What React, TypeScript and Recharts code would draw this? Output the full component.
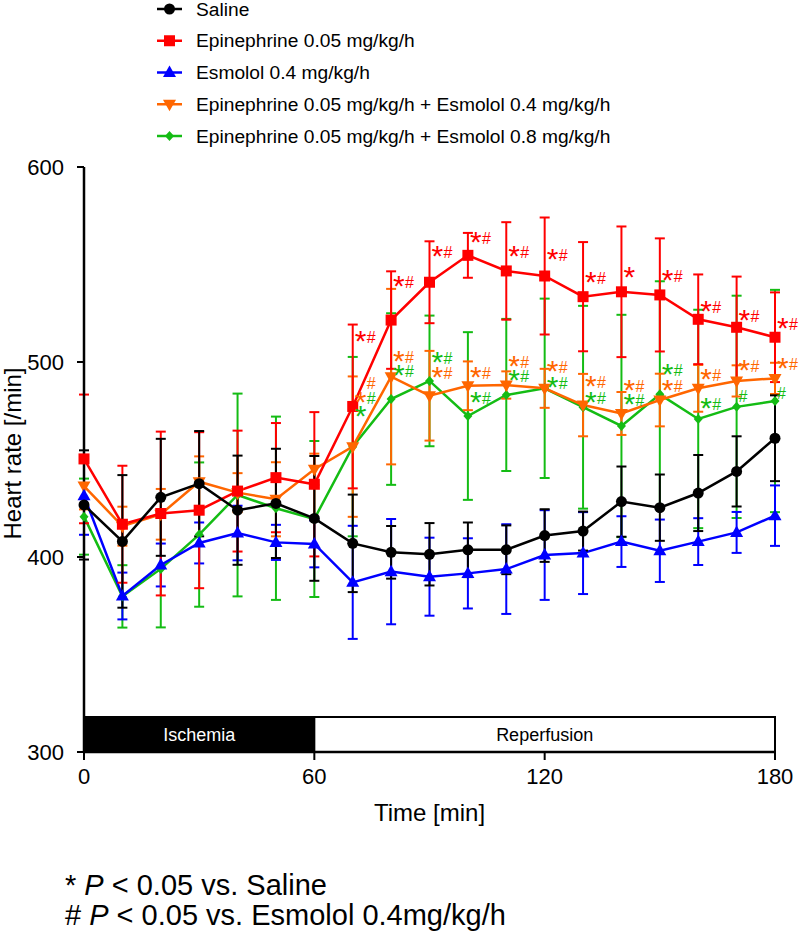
import React from "react";
import {
  ComposedChart,
  ErrorBar,
  Line,
  ReferenceArea,
  XAxis,
  YAxis,
} from "recharts";

// Tiempos de muestreo (min) y frecuencia cardiaca media ± error por grupo.
const times = [0, 10, 20, 30, 40, 50, 60, 70, 80, 90, 100, 110, 120, 130, 140, 150, 160, 170, 180];

const saline = [426.7, 408, 430.6, 437.6, 424, 427.5, 419.8, 407, 402.4, 401.4, 403.7, 403.7, 411, 413.3, 428.4, 425.3, 432.8, 443.9, 460.9];
const salineErr = [28, 34, 30, 27, 28, 28, 32, 25, 13.5, 16, 14, 12.5, 13.5, 10, 18, 17, 19.5, 18, 22];

const epi = [450.3, 416.8, 422.3, 424, 433.8, 440.7, 437.3, 477.2, 521.5, 540.9, 554.7, 546.7, 544.1, 533.5, 536, 534.4, 521.9, 517.8, 512.7];
const epiErr = [33, 30, 42, 40, 31, 28, 37, 42, 25, 21, 11.5, 25, 30, 28, 33.5, 29, 23, 26, 23];

const esm = [431.4, 380, 395.9, 407.2, 412.3, 407.5, 406.7, 387, 392.5, 389.9, 391.6, 393.8, 401, 402, 407.9, 403.2, 407.9, 412.6, 421.2];
const esmErr = [20, 12, 11, 10.5, 14, 9, 12, 29, 27, 20, 18, 23, 23, 21, 13, 16, 12, 10.5, 15.5];

const epiEsm04 = [436.4, 415.8, 421.9, 438.6, 433, 429.6, 445, 456.6, 492.5, 482.7, 487.8, 488.2, 486.5, 477.9, 473.6, 480.5, 486.5, 490.3, 491.6];
const epiEsm04Err = [12, 10, 13, 13, 10, 19, 8, 36, 45, 23, 12.5, 7, 10, 16, 11, 13.5, 12, 8, 8];

const epiEsm08 = [420.7, 379.8, 393.9, 411.5, 431.8, 425, 419.5, 456.6, 481, 490.3, 472.3, 483.1, 486.5, 476.8, 467.2, 483.4, 470.8, 477, 480];
const epiEsm08Err = [19.5, 16, 30, 37, 52, 47, 40, 46, 44, 33.5, 43, 39, 46, 52, 57, 58, 56, 57, 57];

// Marcas de significación (* vs. Saline, # vs. Esmolol); un espacio deja
// libre la posición del asterisco.
const epiSigTimes = [70, 80, 90, 100, 110, 120, 130, 140, 150, 160, 170, 180];
const epiSigValues = [512.8, 541, 556.4, 563.6, 556.4, 554.9, 543.1, 545.6, 544.1, 528.2, 523.6, 519.5];
const epiSigText = ["*#", "*#", "*#", "*#", "*#", "*#", "*#", "*", "*#", "*#", "*#", "*#"];

const e04SigTimes = [70, 70, 80, 90, 100, 110, 120, 130, 140, 150, 160, 170, 180];
const e04SigValues = [489.2, 481.5, 502.6, 494.4, 494.4, 500, 497.4, 489.7, 487.7, 487.7, 493.3, 497.9, 499];
const e04SigText = [" #", "*", "*#", "*#", "*#", "*#", "*#", "*#", "*#", "*#", "*#", "*#", "*#"];

const e08SigTimes = [70, 70, 80, 90, 100, 110, 120, 130, 140, 150, 160, 170, 180];
const e08SigValues = [481.5, 474.4, 495.4, 502.1, 481.5, 492.8, 489.2, 481.5, 480.5, 495.9, 478.5, 482.6, 484.1];
const e08SigText = [" #", "*", "*#", "*#", "*#", "*#", "*#", "*#", "*#", "*#", "*#", "#", "#"];

const xTicks = [0, 60, 120, 180];
const yTicks = [300, 400, 500, 600];

const FONT = "'Liberation Sans', Arial, Helvetica, sans-serif";

const BLACK = "#000000";
const RED = "#ff0000";
const BLUE = "#0000ff";
const ORANGE = "#ff6600";
const GREEN = "#14bc14";

type Shape = "circle" | "square" | "up" | "down" | "diamond";

function Marker({ shape, x, y, color }: { shape: Shape; x: number; y: number; color: string }) {
  switch (shape) {
    case "circle":
      return <circle cx={x} cy={y} r={5.5} fill={color} />;
    case "square":
      return <rect x={x - 5.5} y={y - 5.5} width={11} height={11} fill={color} />;
    case "up":
      return <path d={`M${x},${y - 7} L${x + 6.5},${y + 4.5} L${x - 6.5},${y + 4.5} Z`} fill={color} />;
    case "down":
      return <path d={`M${x},${y + 7} L${x + 6.5},${y - 4.5} L${x - 6.5},${y - 4.5} Z`} fill={color} />;
    default:
      return <path d={`M${x},${y - 5} L${x + 4.5},${y} L${x},${y + 5} L${x - 4.5},${y} Z`} fill={color} />;
  }
}

// Dibuja "*" y "#" en dos huecos fijos a la derecha del punto.
function SigMark({ x, y, text, color }: { x: number; y: number; text: string; color: string }) {
  return (
    <g>
      {text.split("").map((ch, i) => {
        if (ch === " ") return null;
        const tx = x + 2 + i * 12;
        if (ch === "*") {
          return (
            <text key={i} x={tx} y={y + 14} fontSize={30} fill={color} fontFamily={FONT}>
              *
            </text>
          );
        }
        return (
          <text key={i} x={tx} y={y + 6} fontSize={16} fill={color} fontFamily={FONT}>
            {ch}
          </text>
        );
      })}
    </g>
  );
}

type Series = {
  name: string;
  color: string;
  shape: Shape;
  values: number[];
  errs: number[];
};

const series: Series[] = [
  { name: "Saline", color: BLACK, shape: "circle", values: saline, errs: salineErr },
  { name: "Epinephrine 0.05 mg/kg/h", color: RED, shape: "square", values: epi, errs: epiErr },
  { name: "Esmolol 0.4 mg/kg/h", color: BLUE, shape: "up", values: esm, errs: esmErr },
  { name: "Epinephrine 0.05 mg/kg/h + Esmolol 0.4 mg/kg/h", color: ORANGE, shape: "down", values: epiEsm04, errs: epiEsm04Err },
  { name: "Epinephrine 0.05 mg/kg/h + Esmolol 0.8 mg/kg/h", color: GREEN, shape: "diamond", values: epiEsm08, errs: epiEsm08Err },
];

// orden de pintado: el control queda encima
const drawOrder = [4, 3, 2, 1, 0];

const sigSets = [
  { key: "sig-epi", color: RED, times: epiSigTimes, values: epiSigValues, text: epiSigText },
  { key: "sig-e04", color: ORANGE, times: e04SigTimes, values: e04SigValues, text: e04SigText },
  { key: "sig-e08", color: GREEN, times: e08SigTimes, values: e08SigValues, text: e08SigText },
];

function LegendBlock() {
  return (
    <svg width={800} height={150} style={{ position: "absolute", left: 0, top: 0 }}>
      {series.map((s, i) => {
        const y = 9 + i * 31.75;
        return (
          <g key={s.name}>
            <line x1={157} x2={182} y1={y} y2={y} stroke={s.color} strokeWidth={2.5} />
            <Marker shape={s.shape} x={169.5} y={y} color={s.color} />
            <text x={196} y={y + 6.5} fontSize={19.2} fontFamily={FONT} fill="#000">
              {s.name}
            </text>
          </g>
        );
      })}
    </svg>
  );
}

export default function App() {
  return (
    <div style={{ position: "absolute", left: 0, top: 0, width: 800, height: 936, background: "#fff" }}>
      <LegendBlock />
      <ComposedChart width={800} height={860} margin={{ top: 167, right: 25, bottom: 48, left: 0 }}>
        <XAxis
          type="number"
          dataKey="t"
          domain={[0, 180]}
          ticks={xTicks}
          tickSize={8}
          tickMargin={8}
          height={60}
          axisLine={{ stroke: "#000", strokeWidth: 2.5 }}
          tickLine={{ stroke: "#000", strokeWidth: 2 }}
          tick={{ fill: "#000", fontSize: 22, fontFamily: FONT }}
          label={{
            content: (p: any) => (
              <text
                x={p.viewBox.x + p.viewBox.width / 2}
                y={821}
                textAnchor="middle"
                fontSize={24}
                fontFamily={FONT}
                fill="#000"
              >
                Time [min]
              </text>
            ),
          }}
        />
        <YAxis
          type="number"
          domain={[300, 600]}
          ticks={yTicks}
          width={84}
          tickSize={7}
          tickMargin={13}
          axisLine={{ stroke: "#000", strokeWidth: 2.5 }}
          tickLine={{ stroke: "#000", strokeWidth: 2 }}
          tick={{ fill: "#000", fontSize: 22, fontFamily: FONT }}
          label={{
            content: (p: any) => {
              const cx = 21;
              const cy = p.viewBox.y + p.viewBox.height / 2 - 6;
              return (
                <text
                  x={cx}
                  y={cy}
                  transform={`rotate(-90 ${cx} ${cy})`}
                  textAnchor="middle"
                  fontSize={24}
                  fontFamily={FONT}
                  fill="#000"
                >
                  Heart rate [/min]
                </text>
              );
            },
          }}
        />
        <ReferenceArea
          x1={0}
          x2={60}
          y1={300}
          y2={318}
          fill="#000"
          fillOpacity={1}
          stroke="#000"
          strokeWidth={2}
          label={{ value: "Ischemia", position: "center", fill: "#fff", fontSize: 18, fontFamily: FONT }}
        />
        <ReferenceArea
          x1={60}
          x2={180}
          y1={300}
          y2={318}
          fill="#fff"
          fillOpacity={1}
          stroke="#000"
          strokeWidth={2}
          label={{ value: "Reperfusion", position: "center", fill: "#000", fontSize: 18, fontFamily: FONT }}
        />
        {drawOrder.map((idx) => {
          const s = series[idx];
          const rows = times.map((t, i) => ({ t, v: s.values[i], e: s.errs[i] }));
          return (
            <Line
              key={s.name}
              data={rows}
              dataKey="v"
              name={s.name}
              stroke={s.color}
              strokeWidth={2.5}
              isAnimationActive={false}
              activeDot={false}
              dot={(p: any) => (
                <Marker key={`${s.name}-${p.index}`} shape={s.shape} x={p.cx} y={p.cy} color={s.color} />
              )}
            >
              <ErrorBar dataKey="e" direction="y" width={5} stroke={s.color} strokeWidth={2} />
            </Line>
          );
        })}
        {sigSets.map((g) => (
          <Line
            key={g.key}
            data={g.times.map((t, i) => ({ t, v: g.values[i], s: g.text[i] }))}
            dataKey="v"
            stroke="none"
            isAnimationActive={false}
            activeDot={false}
            legendType="none"
            dot={(p: any) => (
              <SigMark key={`${g.key}-${p.index}`} x={p.cx} y={p.cy} text={p.payload.s} color={g.color} />
            )}
          />
        ))}
      </ComposedChart>
      <div
        style={{
          position: "absolute",
          left: 65,
          top: 870,
          fontFamily: FONT,
          fontSize: 29,
          lineHeight: "30px",
          color: "#000",
          whiteSpace: "nowrap",
        }}
      >
        <div>
          * <i>P</i> &lt; 0.05 vs. Saline
        </div>
        <div>
          # <i>P</i> &lt; 0.05 vs. Esmolol 0.4mg/kg/h
        </div>
      </div>
    </div>
  );
}
